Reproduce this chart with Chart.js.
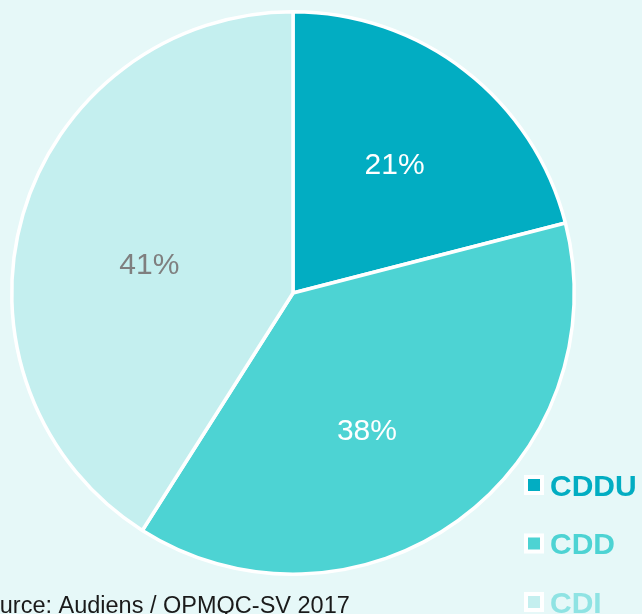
<!DOCTYPE html>
<html>
<head>
<meta charset="utf-8">
<script src="https://cdn.jsdelivr.net/npm/chart.js@4"></script>
<style>
    html, body { margin: 0; padding: 0; background: #e6f8f8; overflow: hidden; }
    #wrap { width: 642px; height: 614px; position: relative; }
</style>
</head>
<body>
<div id="wrap"><canvas id="myChart" width="642" height="614"></canvas></div>
<script>
const contractTypes = ["CDDU", "CDD", "CDI"];
const contractShares = [21, 38, 41];
const sliceColors = ["#02adc2", "#4dd3d3", "#c4efef"];
const legendTextColors = ["#02adc2", "#4dd3d3", "#8fe3e3"];
const labelColors = ["#ffffff", "#ffffff", "#7f7f7f"];
const sourceText = "Source: Audiens / OPMQC-SV 2017";

// small angle shifts (deg) and radial fractions so labels sit like the original
const labelShift = [0.7, 8, -5.5];
const labelDist = [0.58, 0.56, 0.52];

const overlayPlugin = {
    id: 'overlay',
    afterDatasetsDraw(chart) {
        const ctx = chart.ctx;
        const meta = chart.getDatasetMeta(0);
        ctx.save();
        ctx.font = '30px "Liberation Sans", Arial, sans-serif';
        ctx.textAlign = 'center';
        ctx.textBaseline = 'middle';
        meta.data.forEach((arc, i) => {
            const p = arc.getProps(['x', 'y', 'startAngle', 'endAngle', 'outerRadius'], true);
            const mid = (p.startAngle + p.endAngle) / 2 + labelShift[i] * Math.PI / 180;
            const r = p.outerRadius * labelDist[i];
            ctx.fillStyle = labelColors[i];
            ctx.fillText(contractShares[i] + '%', p.x + Math.cos(mid) * r, p.y + Math.sin(mid) * r);
        });

        // legend, bottom right
        ctx.textAlign = 'left';
        ctx.textBaseline = 'alphabetic';
        ctx.font = 'bold 30px "Liberation Sans", Arial, sans-serif';
        contractTypes.forEach((name, i) => {
            const y = 485 + i * 58.5;
            ctx.fillStyle = '#ffffff';
            ctx.fillRect(524, y - 10, 20, 20);
            ctx.fillStyle = sliceColors[i];
            ctx.fillRect(528, y - 6, 12, 12);
            ctx.fillStyle = legendTextColors[i];
            ctx.fillText(name, 550, y + 10.5);
        });

        // source line, partly cut at the left edge
        ctx.font = '23.5px "Liberation Sans", Arial, sans-serif';
        ctx.fillStyle = '#1a1a1a';
        ctx.fillText(sourceText, -29, 613);
        ctx.restore();
    }
};

new Chart(document.getElementById("myChart"), {
    type: 'pie',
    data: {
        labels: contractTypes,
        datasets: [{
            data: contractShares,
            backgroundColor: sliceColors,
            borderColor: '#ffffff',
            borderWidth: 3.5
        }]
    },
    options: {
        responsive: false,
        animation: false,
        layout: { padding: { left: 10, top: 10, right: 66, bottom: 38 } },
        plugins: {
            legend: { display: false },
            tooltip: { enabled: false }
        }
    },
    plugins: [overlayPlugin]
});
</script>
</body>
</html>
